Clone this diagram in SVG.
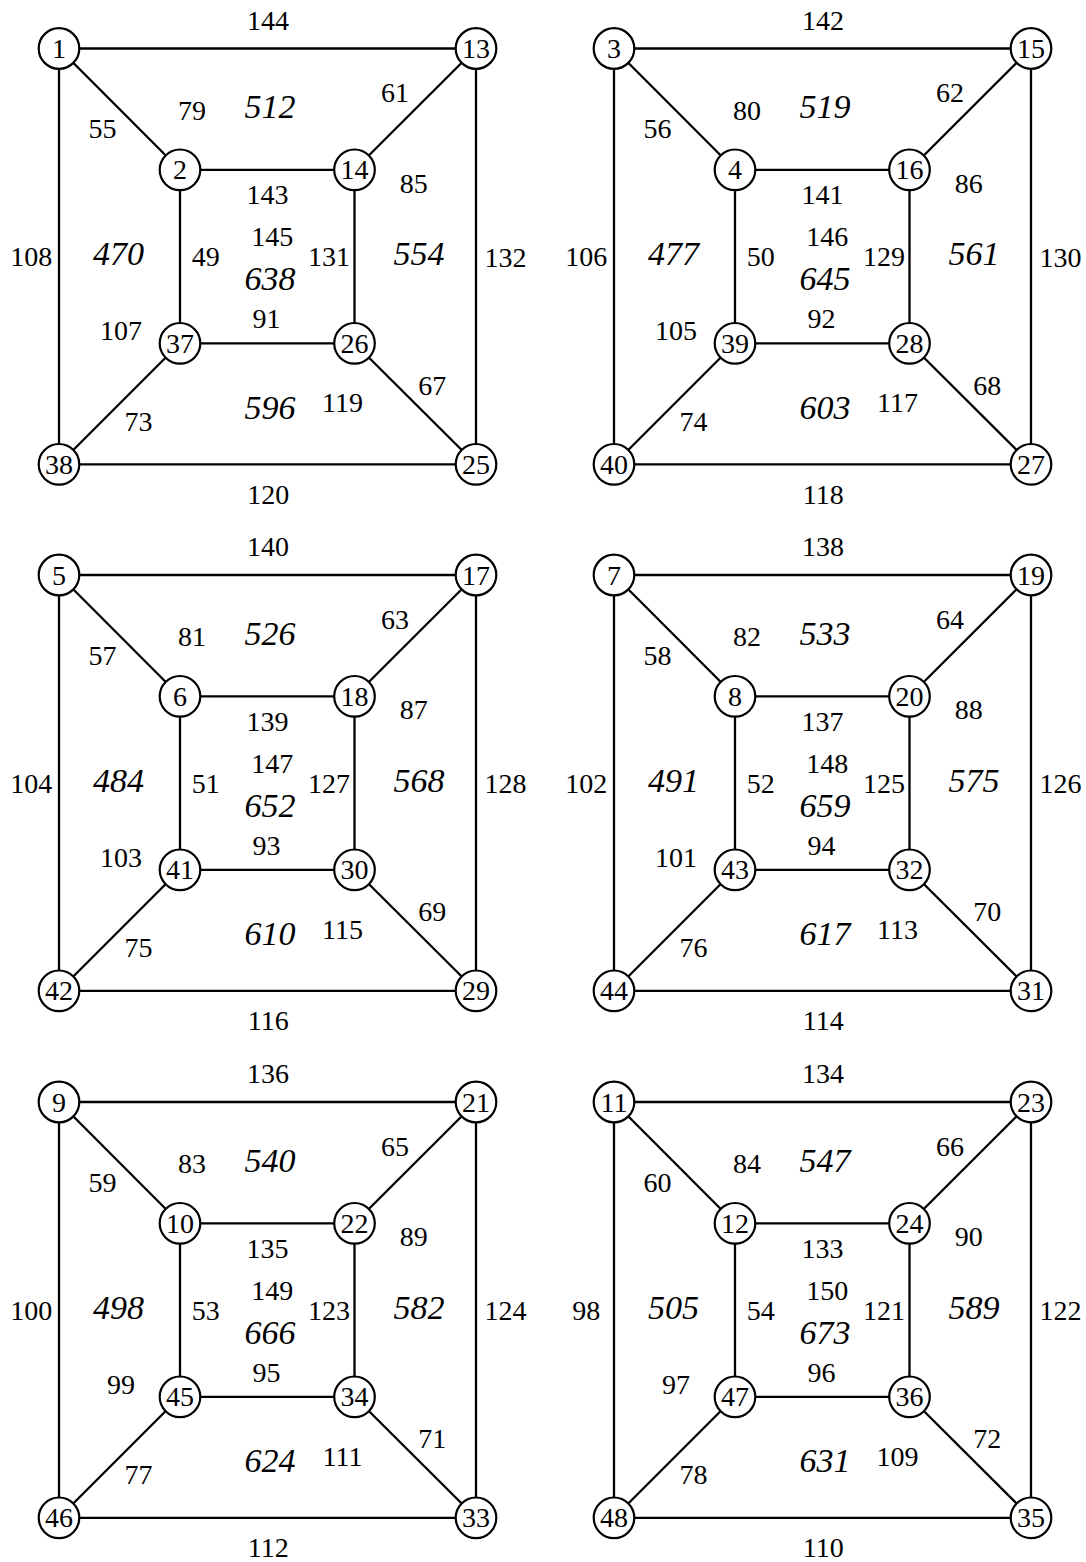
<svg xmlns="http://www.w3.org/2000/svg" width="1086" height="1562" viewBox="0 0 1086 1562" font-family="Liberation Serif, serif">
<style>
.e line{stroke:#000;stroke-width:2.3;fill:none}
.n circle{fill:#fff;stroke:#000;stroke-width:2.2}
text{font-family:"Liberation Serif",serif;font-size:28px;text-anchor:middle;fill:#000}
.f{font-style:italic;font-size:34px}
</style>
<rect width="1086" height="1562" fill="#fff"/>

<!-- Panel 1 -->
<g id="panel1">
<g class="e" id="edges1">
<line x1="59" y1="48.5" x2="476" y2="48.5"/><line x1="59" y1="48.5" x2="59" y2="464.3"/><line x1="476" y1="48.5" x2="476" y2="464.3"/><line x1="59" y1="464.3" x2="476" y2="464.3"/>
<line x1="180" y1="169.8" x2="354.5" y2="169.8"/><line x1="180" y1="169.8" x2="180" y2="343.3"/><line x1="354.5" y1="169.8" x2="354.5" y2="343.3"/><line x1="180" y1="343.3" x2="354.5" y2="343.3"/>
<line x1="59" y1="48.5" x2="180" y2="169.8"/><line x1="476" y1="48.5" x2="354.5" y2="169.8"/><line x1="59" y1="464.3" x2="180" y2="343.3"/><line x1="476" y1="464.3" x2="354.5" y2="343.3"/>
</g>
<g class="n" id="node1"><circle cx="59" cy="48.5" r="20.3"/><text x="59" y="58">1</text></g>
<g class="n" id="node2"><circle cx="180" cy="169.8" r="20.3"/><text x="180" y="179.3">2</text></g>
<g class="n" id="node14"><circle cx="354.5" cy="169.8" r="20.3"/><text x="354.5" y="179.3">14</text></g>
<g class="n" id="node13"><circle cx="476" cy="48.5" r="20.3"/><text x="476" y="58">13</text></g>
<g class="n" id="node37"><circle cx="180" cy="343.3" r="20.3"/><text x="180" y="352.8">37</text></g>
<g class="n" id="node26"><circle cx="354.5" cy="343.3" r="20.3"/><text x="354.5" y="352.8">26</text></g>
<g class="n" id="node38"><circle cx="59" cy="464.3" r="20.3"/><text x="59" y="473.8">38</text></g>
<g class="n" id="node25"><circle cx="476" cy="464.3" r="20.3"/><text x="476" y="473.8">25</text></g>
<g id="labels1">
<text x="268" y="29.5">144</text><text x="102.5" y="138">55</text><text x="192" y="119.5">79</text><text class="f" x="270" y="118.3">512</text>
<text x="395" y="102">61</text><text x="267.5" y="204">143</text><text x="413.7" y="192.5">85</text><text x="31.2" y="266.2">108</text>
<text class="f" x="118.5" y="265">470</text><text x="205.7" y="266.2">49</text><text x="272.2" y="246">145</text><text class="f" x="270" y="290">638</text>
<text x="329" y="266.2">131</text><text class="f" x="419" y="265">554</text><text x="505.5" y="266.5">132</text><text x="121" y="340">107</text>
<text x="266.5" y="328">91</text><text x="138.5" y="430.5">73</text><text class="f" x="270" y="418.5">596</text><text x="342.5" y="412">119</text>
<text x="432.2" y="394.5">67</text><text x="268.3" y="503.5">120</text>
</g>
</g>

<!-- Panel 2 -->
<g id="panel2" transform="translate(555,0)">
<g class="e" id="edges2">
<line x1="59" y1="48.5" x2="476" y2="48.5"/><line x1="59" y1="48.5" x2="59" y2="464.3"/><line x1="476" y1="48.5" x2="476" y2="464.3"/><line x1="59" y1="464.3" x2="476" y2="464.3"/>
<line x1="180" y1="169.8" x2="354.5" y2="169.8"/><line x1="180" y1="169.8" x2="180" y2="343.3"/><line x1="354.5" y1="169.8" x2="354.5" y2="343.3"/><line x1="180" y1="343.3" x2="354.5" y2="343.3"/>
<line x1="59" y1="48.5" x2="180" y2="169.8"/><line x1="476" y1="48.5" x2="354.5" y2="169.8"/><line x1="59" y1="464.3" x2="180" y2="343.3"/><line x1="476" y1="464.3" x2="354.5" y2="343.3"/>
</g>
<g class="n" id="node3"><circle cx="59" cy="48.5" r="20.3"/><text x="59" y="58">3</text></g>
<g class="n" id="node4"><circle cx="180" cy="169.8" r="20.3"/><text x="180" y="179.3">4</text></g>
<g class="n" id="node16"><circle cx="354.5" cy="169.8" r="20.3"/><text x="354.5" y="179.3">16</text></g>
<g class="n" id="node15"><circle cx="476" cy="48.5" r="20.3"/><text x="476" y="58">15</text></g>
<g class="n" id="node39"><circle cx="180" cy="343.3" r="20.3"/><text x="180" y="352.8">39</text></g>
<g class="n" id="node28"><circle cx="354.5" cy="343.3" r="20.3"/><text x="354.5" y="352.8">28</text></g>
<g class="n" id="node40"><circle cx="59" cy="464.3" r="20.3"/><text x="59" y="473.8">40</text></g>
<g class="n" id="node27"><circle cx="476" cy="464.3" r="20.3"/><text x="476" y="473.8">27</text></g>
<g id="labels2">
<text x="268" y="29.5">142</text><text x="102.5" y="138">56</text><text x="192" y="119.5">80</text><text class="f" x="270" y="118.3">519</text>
<text x="395" y="102">62</text><text x="267.5" y="204">141</text><text x="413.7" y="192.5">86</text><text x="31.2" y="266.2">106</text>
<text class="f" x="118.5" y="265">477</text><text x="205.7" y="266.2">50</text><text x="272.2" y="246">146</text><text class="f" x="270" y="290">645</text>
<text x="329" y="266.2">129</text><text class="f" x="419" y="265">561</text><text x="505.5" y="266.5">130</text><text x="121" y="340">105</text>
<text x="266.5" y="328">92</text><text x="138.5" y="430.5">74</text><text class="f" x="270" y="418.5">603</text><text x="342.5" y="412">117</text>
<text x="432.2" y="394.5">68</text><text x="268.3" y="503.5">118</text>
</g>
</g>

<!-- Panel 3 -->
<g id="panel3" transform="translate(0,526.5)">
<g class="e" id="edges3">
<line x1="59" y1="48.5" x2="476" y2="48.5"/><line x1="59" y1="48.5" x2="59" y2="464.3"/><line x1="476" y1="48.5" x2="476" y2="464.3"/><line x1="59" y1="464.3" x2="476" y2="464.3"/>
<line x1="180" y1="169.8" x2="354.5" y2="169.8"/><line x1="180" y1="169.8" x2="180" y2="343.3"/><line x1="354.5" y1="169.8" x2="354.5" y2="343.3"/><line x1="180" y1="343.3" x2="354.5" y2="343.3"/>
<line x1="59" y1="48.5" x2="180" y2="169.8"/><line x1="476" y1="48.5" x2="354.5" y2="169.8"/><line x1="59" y1="464.3" x2="180" y2="343.3"/><line x1="476" y1="464.3" x2="354.5" y2="343.3"/>
</g>
<g class="n" id="node5"><circle cx="59" cy="48.5" r="20.3"/><text x="59" y="58">5</text></g>
<g class="n" id="node6"><circle cx="180" cy="169.8" r="20.3"/><text x="180" y="179.3">6</text></g>
<g class="n" id="node18"><circle cx="354.5" cy="169.8" r="20.3"/><text x="354.5" y="179.3">18</text></g>
<g class="n" id="node17"><circle cx="476" cy="48.5" r="20.3"/><text x="476" y="58">17</text></g>
<g class="n" id="node41"><circle cx="180" cy="343.3" r="20.3"/><text x="180" y="352.8">41</text></g>
<g class="n" id="node30"><circle cx="354.5" cy="343.3" r="20.3"/><text x="354.5" y="352.8">30</text></g>
<g class="n" id="node42"><circle cx="59" cy="464.3" r="20.3"/><text x="59" y="473.8">42</text></g>
<g class="n" id="node29"><circle cx="476" cy="464.3" r="20.3"/><text x="476" y="473.8">29</text></g>
<g id="labels3">
<text x="268" y="29.5">140</text><text x="102.5" y="138">57</text><text x="192" y="119.5">81</text><text class="f" x="270" y="118.3">526</text>
<text x="395" y="102">63</text><text x="267.5" y="204">139</text><text x="413.7" y="192.5">87</text><text x="31.2" y="266.2">104</text>
<text class="f" x="118.5" y="265">484</text><text x="205.7" y="266.2">51</text><text x="272.2" y="246">147</text><text class="f" x="270" y="290">652</text>
<text x="329" y="266.2">127</text><text class="f" x="419" y="265">568</text><text x="505.5" y="266.5">128</text><text x="121" y="340">103</text>
<text x="266.5" y="328">93</text><text x="138.5" y="430.5">75</text><text class="f" x="270" y="418.5">610</text><text x="342.5" y="412">115</text>
<text x="432.2" y="394.5">69</text><text x="268.3" y="503.5">116</text>
</g>
</g>

<!-- Panel 4 -->
<g id="panel4" transform="translate(555,526.5)">
<g class="e" id="edges4">
<line x1="59" y1="48.5" x2="476" y2="48.5"/><line x1="59" y1="48.5" x2="59" y2="464.3"/><line x1="476" y1="48.5" x2="476" y2="464.3"/><line x1="59" y1="464.3" x2="476" y2="464.3"/>
<line x1="180" y1="169.8" x2="354.5" y2="169.8"/><line x1="180" y1="169.8" x2="180" y2="343.3"/><line x1="354.5" y1="169.8" x2="354.5" y2="343.3"/><line x1="180" y1="343.3" x2="354.5" y2="343.3"/>
<line x1="59" y1="48.5" x2="180" y2="169.8"/><line x1="476" y1="48.5" x2="354.5" y2="169.8"/><line x1="59" y1="464.3" x2="180" y2="343.3"/><line x1="476" y1="464.3" x2="354.5" y2="343.3"/>
</g>
<g class="n" id="node7"><circle cx="59" cy="48.5" r="20.3"/><text x="59" y="58">7</text></g>
<g class="n" id="node8"><circle cx="180" cy="169.8" r="20.3"/><text x="180" y="179.3">8</text></g>
<g class="n" id="node20"><circle cx="354.5" cy="169.8" r="20.3"/><text x="354.5" y="179.3">20</text></g>
<g class="n" id="node19"><circle cx="476" cy="48.5" r="20.3"/><text x="476" y="58">19</text></g>
<g class="n" id="node43"><circle cx="180" cy="343.3" r="20.3"/><text x="180" y="352.8">43</text></g>
<g class="n" id="node32"><circle cx="354.5" cy="343.3" r="20.3"/><text x="354.5" y="352.8">32</text></g>
<g class="n" id="node44"><circle cx="59" cy="464.3" r="20.3"/><text x="59" y="473.8">44</text></g>
<g class="n" id="node31"><circle cx="476" cy="464.3" r="20.3"/><text x="476" y="473.8">31</text></g>
<g id="labels4">
<text x="268" y="29.5">138</text><text x="102.5" y="138">58</text><text x="192" y="119.5">82</text><text class="f" x="270" y="118.3">533</text>
<text x="395" y="102">64</text><text x="267.5" y="204">137</text><text x="413.7" y="192.5">88</text><text x="31.2" y="266.2">102</text>
<text class="f" x="118.5" y="265">491</text><text x="205.7" y="266.2">52</text><text x="272.2" y="246">148</text><text class="f" x="270" y="290">659</text>
<text x="329" y="266.2">125</text><text class="f" x="419" y="265">575</text><text x="505.5" y="266.5">126</text><text x="121" y="340">101</text>
<text x="266.5" y="328">94</text><text x="138.5" y="430.5">76</text><text class="f" x="270" y="418.5">617</text><text x="342.5" y="412">113</text>
<text x="432.2" y="394.5">70</text><text x="268.3" y="503.5">114</text>
</g>
</g>

<!-- Panel 5 -->
<g id="panel5" transform="translate(0,1053.5)">
<g class="e" id="edges5">
<line x1="59" y1="48.5" x2="476" y2="48.5"/><line x1="59" y1="48.5" x2="59" y2="464.3"/><line x1="476" y1="48.5" x2="476" y2="464.3"/><line x1="59" y1="464.3" x2="476" y2="464.3"/>
<line x1="180" y1="169.8" x2="354.5" y2="169.8"/><line x1="180" y1="169.8" x2="180" y2="343.3"/><line x1="354.5" y1="169.8" x2="354.5" y2="343.3"/><line x1="180" y1="343.3" x2="354.5" y2="343.3"/>
<line x1="59" y1="48.5" x2="180" y2="169.8"/><line x1="476" y1="48.5" x2="354.5" y2="169.8"/><line x1="59" y1="464.3" x2="180" y2="343.3"/><line x1="476" y1="464.3" x2="354.5" y2="343.3"/>
</g>
<g class="n" id="node9"><circle cx="59" cy="48.5" r="20.3"/><text x="59" y="58">9</text></g>
<g class="n" id="node10"><circle cx="180" cy="169.8" r="20.3"/><text x="180" y="179.3">10</text></g>
<g class="n" id="node22"><circle cx="354.5" cy="169.8" r="20.3"/><text x="354.5" y="179.3">22</text></g>
<g class="n" id="node21"><circle cx="476" cy="48.5" r="20.3"/><text x="476" y="58">21</text></g>
<g class="n" id="node45"><circle cx="180" cy="343.3" r="20.3"/><text x="180" y="352.8">45</text></g>
<g class="n" id="node34"><circle cx="354.5" cy="343.3" r="20.3"/><text x="354.5" y="352.8">34</text></g>
<g class="n" id="node46"><circle cx="59" cy="464.3" r="20.3"/><text x="59" y="473.8">46</text></g>
<g class="n" id="node33"><circle cx="476" cy="464.3" r="20.3"/><text x="476" y="473.8">33</text></g>
<g id="labels5">
<text x="268" y="29.5">136</text><text x="102.5" y="138">59</text><text x="192" y="119.5">83</text><text class="f" x="270" y="118.3">540</text>
<text x="395" y="102">65</text><text x="267.5" y="204">135</text><text x="413.7" y="192.5">89</text><text x="31.2" y="266.2">100</text>
<text class="f" x="118.5" y="265">498</text><text x="205.7" y="266.2">53</text><text x="272.2" y="246">149</text><text class="f" x="270" y="290">666</text>
<text x="329" y="266.2">123</text><text class="f" x="419" y="265">582</text><text x="505.5" y="266.5">124</text><text x="121" y="340">99</text>
<text x="266.5" y="328">95</text><text x="138.5" y="430.5">77</text><text class="f" x="270" y="418.5">624</text><text x="342.5" y="412">111</text>
<text x="432.2" y="394.5">71</text><text x="268.3" y="503.5">112</text>
</g>
</g>

<!-- Panel 6 -->
<g id="panel6" transform="translate(555,1053.5)">
<g class="e" id="edges6">
<line x1="59" y1="48.5" x2="476" y2="48.5"/><line x1="59" y1="48.5" x2="59" y2="464.3"/><line x1="476" y1="48.5" x2="476" y2="464.3"/><line x1="59" y1="464.3" x2="476" y2="464.3"/>
<line x1="180" y1="169.8" x2="354.5" y2="169.8"/><line x1="180" y1="169.8" x2="180" y2="343.3"/><line x1="354.5" y1="169.8" x2="354.5" y2="343.3"/><line x1="180" y1="343.3" x2="354.5" y2="343.3"/>
<line x1="59" y1="48.5" x2="180" y2="169.8"/><line x1="476" y1="48.5" x2="354.5" y2="169.8"/><line x1="59" y1="464.3" x2="180" y2="343.3"/><line x1="476" y1="464.3" x2="354.5" y2="343.3"/>
</g>
<g class="n" id="node11"><circle cx="59" cy="48.5" r="20.3"/><text x="59" y="58">11</text></g>
<g class="n" id="node12"><circle cx="180" cy="169.8" r="20.3"/><text x="180" y="179.3">12</text></g>
<g class="n" id="node24"><circle cx="354.5" cy="169.8" r="20.3"/><text x="354.5" y="179.3">24</text></g>
<g class="n" id="node23"><circle cx="476" cy="48.5" r="20.3"/><text x="476" y="58">23</text></g>
<g class="n" id="node47"><circle cx="180" cy="343.3" r="20.3"/><text x="180" y="352.8">47</text></g>
<g class="n" id="node36"><circle cx="354.5" cy="343.3" r="20.3"/><text x="354.5" y="352.8">36</text></g>
<g class="n" id="node48"><circle cx="59" cy="464.3" r="20.3"/><text x="59" y="473.8">48</text></g>
<g class="n" id="node35"><circle cx="476" cy="464.3" r="20.3"/><text x="476" y="473.8">35</text></g>
<g id="labels6">
<text x="268" y="29.5">134</text><text x="102.5" y="138">60</text><text x="192" y="119.5">84</text><text class="f" x="270" y="118.3">547</text>
<text x="395" y="102">66</text><text x="267.5" y="204">133</text><text x="413.7" y="192.5">90</text><text x="31.2" y="266.2">98</text>
<text class="f" x="118.5" y="265">505</text><text x="205.7" y="266.2">54</text><text x="272.2" y="246">150</text><text class="f" x="270" y="290">673</text>
<text x="329" y="266.2">121</text><text class="f" x="419" y="265">589</text><text x="505.5" y="266.5">122</text><text x="121" y="340">97</text>
<text x="266.5" y="328">96</text><text x="138.5" y="430.5">78</text><text class="f" x="270" y="418.5">631</text><text x="342.5" y="412">109</text>
<text x="432.2" y="394.5">72</text><text x="268.3" y="503.5">110</text>
</g>
</g>
</svg>
